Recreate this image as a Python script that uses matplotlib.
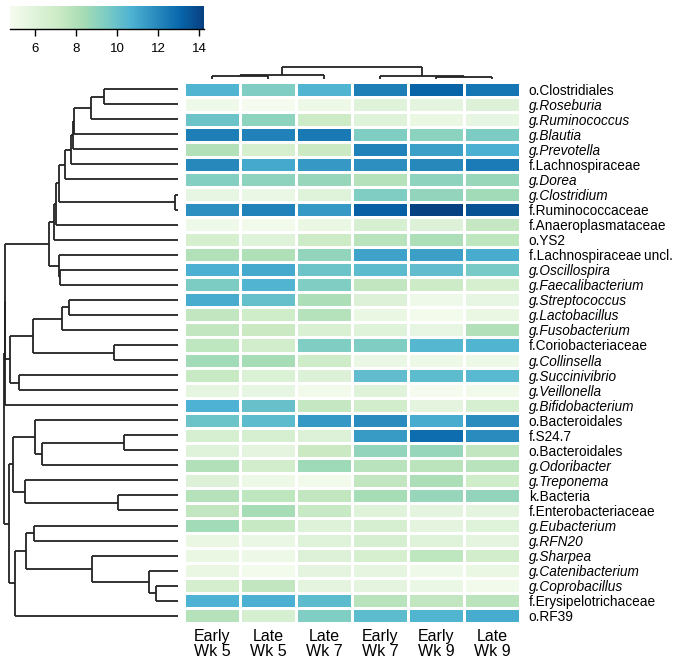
import numpy as np
import matplotlib
matplotlib.use("Agg")
from matplotlib import pyplot as plt

plt.rcParams['font.family'] = ['Liberation Sans', 'DejaVu Sans']

# column (sample) labels
samples = ["Early\nWk 5", "Late\nWk 5", "Late\nWk 7", "Early\nWk 7", "Early\nWk 9", "Late\nWk 9"]

# taxa, top to bottom
taxa = ["o.Clostridiales", "g.Roseburia", "g.Ruminococcus", "g.Blautia", "g.Prevotella",
        "f.Lachnospiraceae", "g.Dorea", "g.Clostridium", "f.Ruminococcaceae",
        "f.Anaeroplasmataceae", "o.YS2", "f.Lachnospiraceae\u2009uncl.", "g.Oscillospira",
        "g.Faecalibacterium", "g.Streptococcus", "g.Lactobacillus", "g.Fusobacterium",
        "f.Coriobacteriaceae", "g.Collinsella", "g.Succinivibrio", "g.Veillonella",
        "g.Bifidobacterium", "o.Bacteroidales", "f.S24.7", "o.Bacteroidales",
        "g.Odoribacter", "g.Treponema", "k.Bacteria", "f.Enterobacteriaceae",
        "g.Eubacterium", "g.RFN20", "g.Sharpea", "g.Catenibacterium", "g.Coprobacillus",
        "f.Erysipelotrichaceae", "o.RF39"]

# log abundance, one row per taxon, columns in the order of samples
values = np.array([
    [10.6, 9.4, 10.6, 12.3, 13.2, 12.6],
    [5.2, 4.9, 5.3, 6.0, 5.8, 6.2],
    [9.9, 9.0, 7.1, 6.0, 5.5, 5.6],
    [12.3, 12.2, 12.5, 9.4, 9.1, 9.5],
    [8.0, 6.6, 7.2, 12.2, 11.3, 10.8],
    [12.0, 11.0, 11.5, 11.8, 12.0, 12.4],
    [9.3, 9.0, 8.8, 7.9, 9.0, 8.7],
    [5.6, 5.4, 6.0, 9.4, 8.9, 8.5],
    [11.8, 12.2, 11.5, 13.3, 14.2, 13.7],
    [5.2, 5.1, 5.5, 6.5, 6.2, 7.4],
    [6.6, 6.0, 7.1, 7.8, 8.2, 7.6],
    [8.0, 8.1, 8.9, 11.2, 11.3, 10.9],
    [10.8, 11.0, 9.9, 10.3, 10.2, 9.6],
    [9.5, 10.6, 9.4, 7.5, 7.1, 6.6],
    [10.9, 10.1, 8.2, 6.2, 5.2, 5.6],
    [7.5, 6.9, 7.9, 5.5, 5.0, 5.5],
    [7.5, 7.2, 6.4, 6.0, 5.6, 8.0],
    [7.6, 6.8, 9.4, 9.4, 10.5, 10.6],
    [8.5, 8.4, 7.0, 5.4, 5.3, 5.3],
    [7.3, 6.3, 6.2, 10.2, 10.3, 10.4],
    [5.7, 5.6, 5.1, 6.0, 4.9, 5.1],
    [10.7, 10.0, 7.4, 6.8, 5.8, 6.5],
    [9.9, 10.3, 11.5, 11.9, 10.9, 11.9],
    [6.5, 6.5, 6.2, 11.4, 12.9, 11.9],
    [6.0, 5.8, 7.2, 8.9, 8.8, 7.5],
    [8.0, 6.8, 8.6, 7.8, 7.7, 7.8],
    [6.2, 5.3, 5.1, 7.5, 8.2, 6.9],
    [7.9, 7.6, 7.5, 8.4, 8.8, 8.9],
    [7.5, 8.4, 7.3, 6.0, 5.8, 5.8],
    [8.5, 7.3, 6.1, 6.5, 5.8, 6.0],
    [5.5, 5.4, 6.0, 6.5, 6.0, 5.8],
    [5.5, 5.3, 6.2, 6.6, 7.6, 6.8],
    [5.5, 5.0, 5.8, 5.7, 5.2, 5.5],
    [6.7, 7.5, 5.8, 5.8, 5.4, 5.1],
    [10.7, 10.8, 10.3, 7.8, 7.5, 7.7],
    [7.9, 6.5, 9.4, 10.3, 10.6, 10.9],
])

# row clustering: (child a, child b, height); leaves 0..35, merged nodes 36, 37, ...
row_merges = [
    (0, 1, 74.0), (36, 2, 86.7), (37, 3, 103.7), (38, 4, 104.7), (39, 5, 106.7),
    (40, 6, 113.0), (7, 8, 3.0), (41, 42, 119.0), (43, 9, 121.3), (44, 10, 124.0),
    (12, 13, 117.3), (11, 46, 118.7), (45, 47, 128.3), (14, 15, 108.3), (49, 16, 115.7),
    (17, 18, 64.0), (50, 51, 145.0), (19, 20, 159.0), (52, 53, 167.3), (48, 54, 172.3),
    (55, 21, 173.0), (23, 24, 54.0), (57, 25, 135.7), (22, 58, 142.3), (27, 28, 59.7),
    (26, 60, 153.0), (59, 61, 165.0), (29, 30, 143.3), (33, 34, 21.7), (32, 64, 29.0),
    (31, 65, 85.7), (63, 66, 151.7), (67, 35, 162.7), (62, 68, 168.3), (56, 69, 173.7),
]

# column clustering; leaves 0..5, merged nodes 6, 7, ...
col_merges = [(0, 1, 3.0), (6, 2, 4.5), (4, 5, 2.3), (3, 8, 3.3), (7, 9, 12.3)]

vmin, vmax = 4.78, 14.24
cmap = plt.get_cmap('GnBu')


def draw_dendrogram(ax, merges, n_leaves, orientation, color='#222222', lw=1.3):
    pos = {i: i + 0.5 for i in range(n_leaves)}
    hgt = {i: 0.0 for i in range(n_leaves)}
    for k, (a, b, h) in enumerate(merges):
        node = n_leaves + k
        for c in (a, b):
            if orientation == 'left':
                ax.plot([hgt[c], h], [pos[c], pos[c]], color=color, lw=lw, solid_capstyle='butt')
            else:
                ax.plot([pos[c], pos[c]], [hgt[c], h], color=color, lw=lw, solid_capstyle='butt')
        if orientation == 'left':
            ax.plot([h, h], [pos[a], pos[b]], color=color, lw=lw, solid_capstyle='butt')
        else:
            ax.plot([pos[a], pos[b]], [h, h], color=color, lw=lw, solid_capstyle='butt')
        pos[node] = (pos[a] + pos[b]) / 2
        hgt[node] = h


W, H = 675, 662
fig = plt.figure(figsize=(W / 100, H / 100), dpi=100)


def px_axes(x0, y0, x1, y1):
    return fig.add_axes([x0 / W, 1 - y1 / H, (x1 - x0) / W, (y1 - y0) / H])


# heatmap
hx0, hy0, hx1, hy1 = 184, 81.7, 520, 623.3
ax = px_axes(hx0, hy0, hx1, hy1)
nr, nc = values.shape
ax.pcolormesh(np.arange(nc + 1), np.arange(nr + 1), values, cmap=cmap, vmin=vmin, vmax=vmax,
              edgecolors='white', linewidth=1.0)
ax.set_xlim(0, nc)
ax.set_ylim(nr, 0)
for s in ax.spines.values():
    s.set_visible(False)
ax.set_xticks(np.arange(nc) + 0.5)
ax.set_xticklabels(samples, fontsize=11.5, linespacing=1.0)
ax.tick_params(axis='x', length=0, pad=4)
ax.yaxis.tick_right()
ax.set_yticks(np.arange(nr) + 0.5)
ax.set_yticklabels(taxa, fontsize=9.8)
ax.tick_params(axis='y', length=0, pad=6.3)
for lab in ax.get_yticklabels():
    if lab.get_text().startswith('g.'):
        lab.set_style('italic')

# row dendrogram
ax_r = px_axes(0, hy0, 177.5, hy1)
draw_dendrogram(ax_r, row_merges, nr, 'left')
ax_r.set_xlim(177.5, 0)
ax_r.set_ylim(nr, 0)
ax_r.axis('off')

# column dendrogram
ax_c = px_axes(hx0, 64, hx1, 79.3)
draw_dendrogram(ax_c, col_merges, nc, 'top')
ax_c.set_xlim(0, nc)
ax_c.set_ylim(0, 15.3)
ax_c.axis('off')

# colour key
ax_k = px_axes(10, 6, 204, 29)
grad = np.linspace(vmin, vmax, 256).reshape(1, -1)
ax_k.imshow(grad, cmap=cmap, vmin=vmin, vmax=vmax, aspect='auto',
            extent=[vmin, vmax, 0, 1])
ax_k.set_xlim(vmin, vmax)
ax_k.set_yticks([])
ax_k.set_xticks([6, 8, 10, 12, 14])
ax_k.tick_params(axis='x', length=5, width=1, labelsize=9.5, pad=5)
for side in ('top', 'left', 'right'):
    ax_k.spines[side].set_visible(False)
ax_k.spines['bottom'].set_linewidth(1)

fig.savefig('out.png', dpi=100)
